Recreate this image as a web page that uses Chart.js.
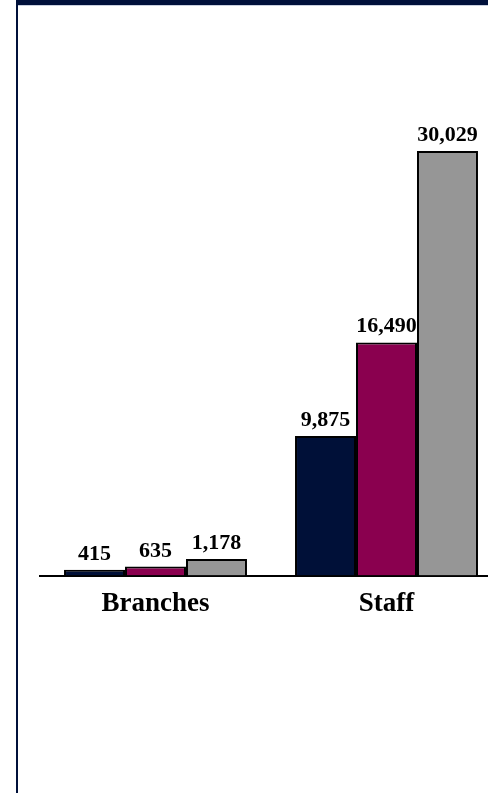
<!DOCTYPE html>
<html>
<head>
<meta charset="utf-8">
<script src="https://cdn.jsdelivr.net/npm/chart.js@4"></script>
<style>
  html, body { margin: 0; padding: 0; background: #ffffff; overflow: hidden; width: 488px; height: 793px; }
  #wrap { position: absolute; left: 0; top: 0; width: 510px; height: 793px; }
  #frameTop { position: absolute; left: 16px; top: 0; width: 472px; height: 5px; background: #00103a; }
  #frameTopLight { position: absolute; left: 18px; top: 5px; width: 470px; height: 1px; background: #c9d0de; }
  #frameLeft { position: absolute; left: 16px; top: 0; width: 2px; height: 793px; background: #00103a; }
</style>
</head>
<body>
<div id="wrap"><canvas id="c" width="510" height="793"></canvas></div>
<div id="frameTop"></div>
<div id="frameTopLight"></div>
<div id="frameLeft"></div>
<script>
const categories = ["Branches", "Staff"];
const seriesA = [415, 9875];
const seriesB = [635, 16490];
const seriesC = [1178, 30029];
const seriesColors = ["#001038", "#8a004f", "#969696"];

const valueLabels = {
  id: "valueLabels",
  afterDatasetsDraw(chart) {
    const ctx = chart.ctx;
    ctx.save();
    ctx.font = "bold 22px 'Liberation Serif', 'Times New Roman', serif";
    ctx.fillStyle = "#000000";
    ctx.textAlign = "center";
    ctx.textBaseline = "alphabetic";
    chart.data.datasets.forEach((ds, i) => {
      const meta = chart.getDatasetMeta(i);
      meta.data.forEach((el, j) => {
        ctx.fillText(ds.data[j].toLocaleString("en-US"), el.x, el.y - 10);
      });
    });
    ctx.restore();
  }
};

new Chart(document.getElementById("c"), {
  type: "bar",
  data: {
    labels: categories,
    datasets: [
      { data: seriesA, backgroundColor: seriesColors[0], borderColor: "#000000", borderWidth: 2 },
      { data: seriesB, backgroundColor: seriesColors[1], borderColor: "#000000", borderWidth: 2 },
      { data: seriesC, backgroundColor: seriesColors[2], borderColor: "#000000", borderWidth: 2 }
    ]
  },
  options: {
    responsive: false,
    animation: false,
    layout: { padding: { left: 40, right: 8, top: 10, bottom: 161 } },
    categoryPercentage: 0.792,
    barPercentage: 1.0,
    plugins: { legend: { display: false }, tooltip: { enabled: false } },
    scales: {
      x: {
        grid: { display: false, drawTicks: false },
        border: { display: true, color: "#000000", width: 2 },
        ticks: {
          padding: 12,
          color: "#000000",
          font: { family: "'Liberation Serif', 'Times New Roman', serif", size: 27, weight: "bold" }
        }
      },
      y: {
        display: false,
        min: 0,
        max: 40000
      }
    }
  },
  plugins: [valueLabels]
});
</script>
</body>
</html>
